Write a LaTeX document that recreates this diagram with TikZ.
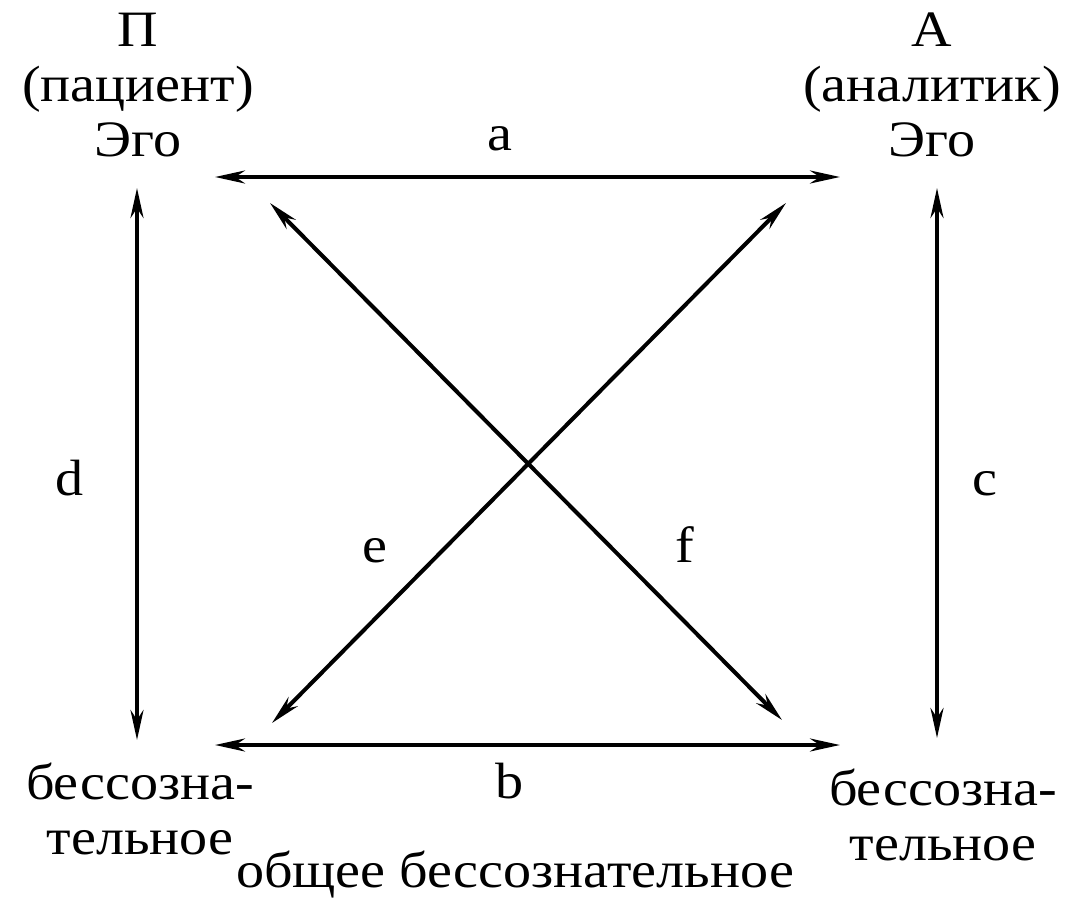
\documentclass[tikz,border=0pt]{standalone}
\usepackage{fontspec}
\setmainfont[FakeStretch=1.1]{Liberation Serif}
\usetikzlibrary{arrows.meta}

\begin{document}
\begin{tikzpicture}[
  x=0.5pt, y=-0.5pt,
  font=\fontsize{25.5}{27.5}\selectfont,
  lab/.style={inner sep=0pt, align=center},
  ltr/.style={inner sep=0pt, anchor=base},
  arr/.style={{Stealth[length=15pt, width=6.5pt]}-{Stealth[length=15pt, width=6.5pt]}, line width=2pt}
]
\useasboundingbox (0,0) rectangle (1076,899);
% ----- corner labels -----
\node[lab] (pat)  at (138,85)  {П\\(пациент)\\Эго};
\node[lab] (ana)  at (932,85)  {А\\(аналитик)\\Эго};
\node[lab] (pu)   at (140,809) {бессозна-\\тельное};
\node[lab] (au)   at (943,815) {бессозна-\\тельное};
\node[ltr] (com)  at (515,887) {общее бессознательное};
% ----- arrow ends -----
\coordinate (tl) at (215,177);  \coordinate (tr) at (840,177);
\coordinate (bl) at (215,745);  \coordinate (br) at (840,745);
\coordinate (lt) at (137,188);  \coordinate (lb) at (137,740);
\coordinate (rt) at (937,188);  \coordinate (rb) at (937,738);
\coordinate (d1) at (270,203);  \coordinate (d2) at (782,720);
\coordinate (d3) at (272,723);  \coordinate (d4) at (786,203);
% ----- connectors -----
\foreach \a/\b in {tl/tr, bl/br, lt/lb, rt/rb, d1/d2, d3/d4}{\draw[arr] (\a) -- (\b);}
% ----- letters -----
\node[ltr] (la) at (500,150) {a};
\node[ltr] (lbb) at (510,798) {b};
\node[ltr] (lc) at (985,495) {c};
\node[ltr] (ld) at (70,495)  {d};
\node[ltr] (le) at (375,562) {e};
\node[ltr] (lf) at (685,562) {f};
\end{tikzpicture}
\end{document}
